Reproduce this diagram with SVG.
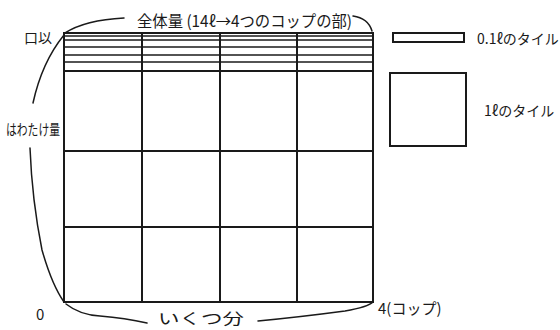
<svg xmlns="http://www.w3.org/2000/svg" width="560" height="330" viewBox="0 0 560 330">
<style>
.g{stroke:#1a1a1a;stroke-width:2;fill:none;stroke-linecap:round}
.t{stroke:#1a1a1a;stroke-width:1.6;fill:none}
.c{stroke:#1a1a1a;stroke-width:1.5;fill:none;stroke-linecap:round}
text{font-family:"Noto Sans CJK JP","Liberation Sans",sans-serif;fill:#1a1a1a}
</style>
<rect width="560" height="330" fill="#fff"/>
<g id="grid">
<rect class="g" x="64" y="33" width="309" height="269"/>
<line class="g" x1="142" y1="33" x2="142" y2="302"/>
<line class="g" x1="220" y1="33" x2="220" y2="302"/>
<line class="g" x1="297" y1="33" x2="297" y2="302"/>
<line class="t" x1="64" y1="36" x2="373" y2="36"/>
<line class="t" x1="64" y1="40" x2="373" y2="40"/>
<line class="t" x1="64" y1="47" x2="373" y2="47"/>
<line class="t" x1="64" y1="55" x2="373" y2="55"/>
<line class="t" x1="64" y1="62" x2="373" y2="62"/>
<line class="g" x1="64" y1="71" x2="373" y2="71"/>
<line class="g" x1="64" y1="151" x2="373" y2="151"/>
<line class="g" x1="64" y1="227" x2="373" y2="227"/>
</g>
<g id="tile01">
<rect class="g" x="393" y="33" width="71" height="9"/>
<text x="477" y="44" font-size="14">0.1ℓのタイル</text>
</g>
<g id="tile1">
<rect class="g" x="390" y="73" width="76" height="73"/>
<text x="484" y="116" font-size="14">1ℓのタイル</text>
</g>
<g id="labels">
<text x="24" y="43" font-size="14">口以</text>
<text x="137" y="27" font-size="16" textLength="215" lengthAdjust="spacingAndGlyphs">全体量 (14ℓ→4つのコップの部)</text>
<text x="6" y="135" font-size="15" textLength="54" lengthAdjust="spacingAndGlyphs">はわたけ量</text>
<text x="36" y="320" font-size="15">0</text>
<text x="158" y="324" font-size="15" textLength="86" lengthAdjust="spacingAndGlyphs">いくつ分</text>
<text x="378" y="314" font-size="15">4(コップ)</text>
</g>
<g id="connectors">
<path class="c" d="M65,33 Q85,20 124,18"/>
<path class="c" d="M353,16 Q368,18 372,31"/>
<path class="c" d="M64,35 Q42,62 33,103"/>
<path class="c" d="M30,148 Q32,200 42,250 Q52,285 64,302"/>
<path class="c" d="M66,304 Q80,315 100,316 Q125,318 147,323"/>
<path class="c" d="M258,321 Q300,317 345,311 Q368,307 373,302"/>
</g>
</svg>
